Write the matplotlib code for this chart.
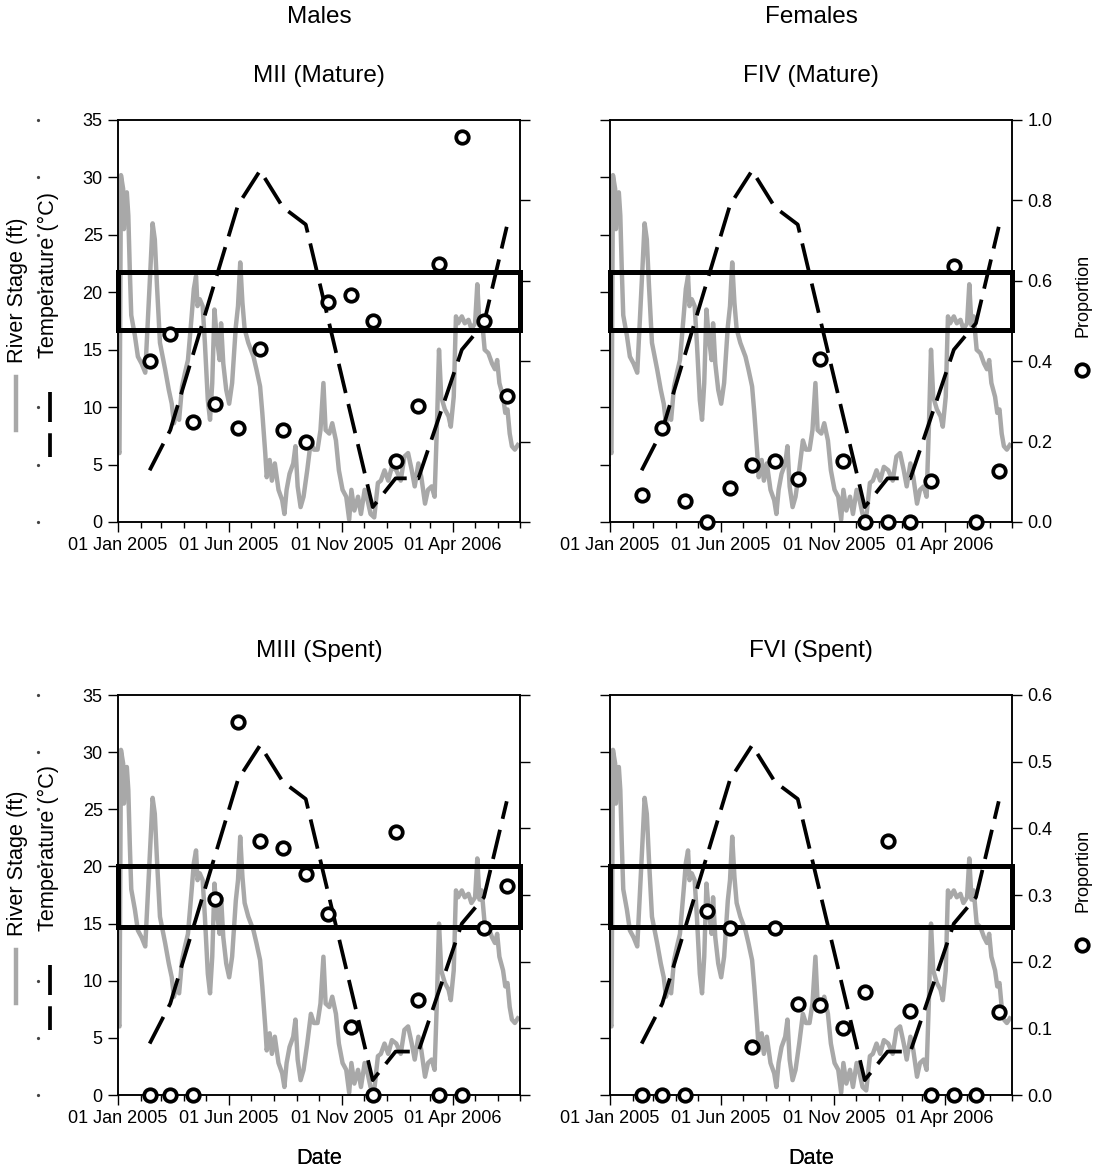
import numpy as np
import matplotlib.pyplot as plt
import matplotlib.dates as mdates
from matplotlib.lines import Line2D
from matplotlib.patches import Rectangle
from matplotlib.ticker import FixedLocator, FormatStrFormatter

plt.rcParams['font.family'] = ['Liberation Sans', 'DejaVu Sans']

# river stage (ft); day counted from 01 Jan 2005
stage_day = [0, 2, 4, 7, 8, 10, 12, 14, 16, 18, 23, 27, 32, 37, 40, 44, 47, 50, 53, 57,
             64, 69, 73, 76, 79, 83, 87, 91, 95, 100, 103, 106, 108, 111, 115, 118, 122, 125, 128, 131,
             134, 138, 140, 143, 147, 151, 155, 160, 163, 166, 169, 172, 177, 184, 188, 193, 196, 200, 202, 206,
             209, 213, 218, 223, 226, 229, 233, 238, 241, 244, 248, 252, 257, 262, 266, 271, 275, 279, 282, 287,
             291, 296, 300, 305, 310, 314, 317, 321, 326, 330, 335, 339, 343, 348, 353, 357, 362, 367, 372, 378,
             384, 389, 394, 399, 403, 408, 412, 417, 421, 426, 430, 433, 436, 439, 444, 449, 452, 456, 459, 462,
             467, 471, 476, 480, 485, 488, 491, 494, 498, 503, 508, 512, 515, 518, 523, 526, 529, 532, 535, 539,
             543]
stage_ft = [6.3, 6.0, 30.2, 29.0, 25.5, 28.4, 28.7, 26.7, 22.0, 18.0, 16.2, 14.4, 13.8, 13.0, 16.8, 22.0, 26.0, 24.6, 20.5, 15.6,
            13.3, 11.5, 10.3, 8.6, 9.5, 8.9, 11.8, 13.0, 14.1, 17.9, 20.3, 21.4, 18.8, 19.4, 18.8, 15.6, 10.6, 8.9, 12.1, 18.5,
            16.2, 14.1, 17.3, 13.8, 11.5, 10.3, 12.1, 17.0, 18.8, 22.6, 19.1, 16.8, 15.6, 14.4, 13.3, 11.8, 9.5, 6.0, 3.9, 5.4,
            3.6, 5.1, 2.8, 1.9, 0.7, 2.8, 4.2, 5.1, 6.6, 3.1, 1.3, 2.2, 4.5, 7.1, 6.3, 6.3, 8.0, 12.1, 8.0, 7.7,
            8.6, 7.1, 4.5, 2.8, 2.2, 0.2, 2.8, 1.0, 2.2, 0.7, 2.8, 1.9, 0.7, 0.4, 3.4, 3.6, 4.5, 3.6, 4.8, 4.5,
            3.6, 5.7, 6.0, 4.5, 3.1, 5.1, 3.9, 1.6, 2.8, 3.1, 2.2, 8.0, 15.0, 10.9, 9.8, 9.2, 8.3, 10.9, 17.9, 17.3,
            17.9, 17.3, 17.6, 16.8, 17.3, 20.7, 17.1, 17.9, 15.0, 14.7, 13.8, 13.3, 14.1, 12.1, 10.9, 9.5, 9.8, 7.7, 6.6, 6.3,
            6.7]

# water temperature (deg C)
temp_dates = ['2005-02-13', '2005-03-13', '2005-06-13', '2005-07-13', '2005-08-13', '2005-09-13',
              '2005-12-13', '2006-01-13', '2006-02-13', '2006-04-13', '2006-05-13', '2006-06-13']
temp_c = [4.5, 8.0, 27.6, 30.6, 27.4, 25.9, 1.3, 3.8, 3.8, 15.0, 17.3, 25.7]

# monthly samples, proportion of fish in each stage
sample_dates = ['2005-02-13', '2005-03-13', '2005-04-13', '2005-05-13', '2005-06-13', '2005-07-13',
                '2005-08-13', '2005-09-13', '2005-10-13', '2005-11-13', '2005-12-13', '2006-01-13',
                '2006-02-13', '2006-03-13', '2006-04-13', '2006-05-13', '2006-06-13']
prop_mii = [0.40, 0.468, 0.25, 0.294, 0.235, 0.43, 0.229, 0.20, 0.547, 0.565, 0.50, 0.152,
            0.288, 0.643, 0.957, 0.50, 0.313]
prop_fiv = [0.066, 0.233, 0.052, 0.0, 0.085, 0.143, 0.152, 0.106, 0.406, 0.152, 0.0, 0.0,
            0.0, 0.102, 0.638, 0.0, 0.128]
prop_miii = [0.0, 0.0, 0.0, 0.294, 0.559, 0.381, 0.371, 0.332, 0.272, 0.102, 0.0, 0.394,
             0.143, 0.0, 0.0, 0.251, 0.313]
prop_fvi = [0.0, 0.0, 0.0, 0.276, 0.25, 0.072, 0.25, 0.137, 0.135, 0.10, 0.155, 0.381,
            0.126, 0.0, 0.0, 0.0, 0.125]

# river stage windows (ft)
band_mature = (16.7, 21.8)
band_spent = (14.7, 20.0)

major_dates = ['2005-01-01', '2005-06-01', '2005-11-01', '2006-04-01']

W, H = 1102, 1173
GRAY = '#a8a8a8'
MS, MEW = 9, 2.7


def fx(x):
    return x / W


def fy(y):
    return 1 - y / H


stage_dt = np.datetime64('2005-01-01') + np.array(stage_day, dtype='timedelta64[D]')
temp_dt = np.array(temp_dates, dtype='datetime64[D]')
sample_dt = np.array(sample_dates, dtype='datetime64[D]')

fig = plt.figure(figsize=(W / 100, H / 100), dpi=100)

panels = [
    ('MII (Mature)', prop_mii, 1.0, 0.2, band_mature, 118, 120, 522, True),
    ('FIV (Mature)', prop_fiv, 1.0, 0.2, band_mature, 610, 120, 522, False),
    ('MIII (Spent)', prop_miii, 0.6, 0.1, band_spent, 118, 695, 1095, True),
    ('FVI (Spent)', prop_fvi, 0.6, 0.1, band_spent, 610, 695, 1095, False),
]

for title, props, pmax, step, band, left, top, bottom, is_left in panels:
    width = 402
    ax = fig.add_axes([fx(left), fy(bottom), width / W, (bottom - top) / H])
    ax.plot(stage_dt, stage_ft, color=GRAY, lw=3.2, solid_joinstyle='round', zorder=2)
    ax.plot(temp_dt, temp_c, color='black', lw=2.7, dashes=(8, 3), zorder=3)
    ax.add_patch(Rectangle((0, band[0]), 1, band[1] - band[0], transform=ax.get_yaxis_transform(),
                           fill=False, ec='black', lw=3.6, clip_on=False, zorder=4))
    yt = np.arange(0, 36, 5)
    ax.set_ylim(0, 35)
    ax.set_yticks(yt)
    ax.set_xlim(np.datetime64('2005-01-01'), np.datetime64('2006-07-01'))
    ax.xaxis.set_major_locator(FixedLocator(mdates.date2num(np.array(major_dates, dtype='datetime64[D]'))))
    ax.xaxis.set_minor_locator(mdates.MonthLocator())
    ax.xaxis.set_major_formatter(mdates.DateFormatter('%d %b %Y'))
    ax.tick_params(axis='both', which='major', direction='out', length=7, width=1, labelsize=13, pad=4)
    ax.tick_params(axis='x', which='minor', direction='out', length=4.5, width=1)
    for s in ax.spines.values():
        s.set_linewidth(1.1)

    ax2 = ax.twinx()
    ax2.set_ylim(0, pmax)
    ax2.set_yticks(np.arange(0, pmax + step / 2, step))
    ax2.yaxis.set_major_formatter(FormatStrFormatter('%.1f'))
    ax2.tick_params(direction='out', length=7, width=1, labelsize=13, pad=4, labelright=not is_left)
    for s in ax2.spines.values():
        s.set_linewidth(1.1)
    ax2.plot(sample_dt, props, ls='none', marker='o', ms=MS, mfc='white', mec='black', mew=MEW,
             clip_on=False, zorder=5)

    cx = left + width / 2
    fig.text(fx(cx), fy(top - 44), title, ha='center', va='center', fontsize=17.5)
    fig.text(fx(cx), fy(1159), 'Date', ha='center', va='center', fontsize=15.7)

    if is_left:
        ax.plot(np.full(len(yt), -0.2), yt, ls='none', marker='o', ms=1.3, color='#444444',
                transform=ax.get_yaxis_transform(), clip_on=False)
        fig.text(fx(18), fy(bottom - 159), 'River Stage (ft)', rotation=90, ha='center', va='bottom',
                 fontsize=15.6)
        fig.text(fx(48), fy(bottom - 164), 'Temperature (°C)', rotation=90, ha='center', va='bottom',
                 fontsize=15.6)
        fig.add_artist(Line2D([fx(16), fx(16)], [fy(bottom - 145), fy(bottom - 92)], color=GRAY, lw=3.2))
        fig.add_artist(Line2D([fx(50), fx(50)], [fy(bottom - 130), fy(bottom - 65)], color='black',
                              lw=2.7, dashes=(8, 3)))
    else:
        ax.tick_params(labelleft=False)
        fig.text(fx(1083), fy(top + 217), 'Proportion', rotation=90, ha='center', va='bottom', fontsize=13)
        fig.add_artist(Line2D([fx(1082)], [fy(top + 250)], ls='none', marker='o', ms=MS, mfc='white',
                              mec='black', mew=MEW))

fig.text(fx(319), fy(17), 'Males', ha='center', va='center', fontsize=17.5)
fig.text(fx(811), fy(17), 'Females', ha='center', va='center', fontsize=17.5)

fig.savefig('out.png', dpi=100)
